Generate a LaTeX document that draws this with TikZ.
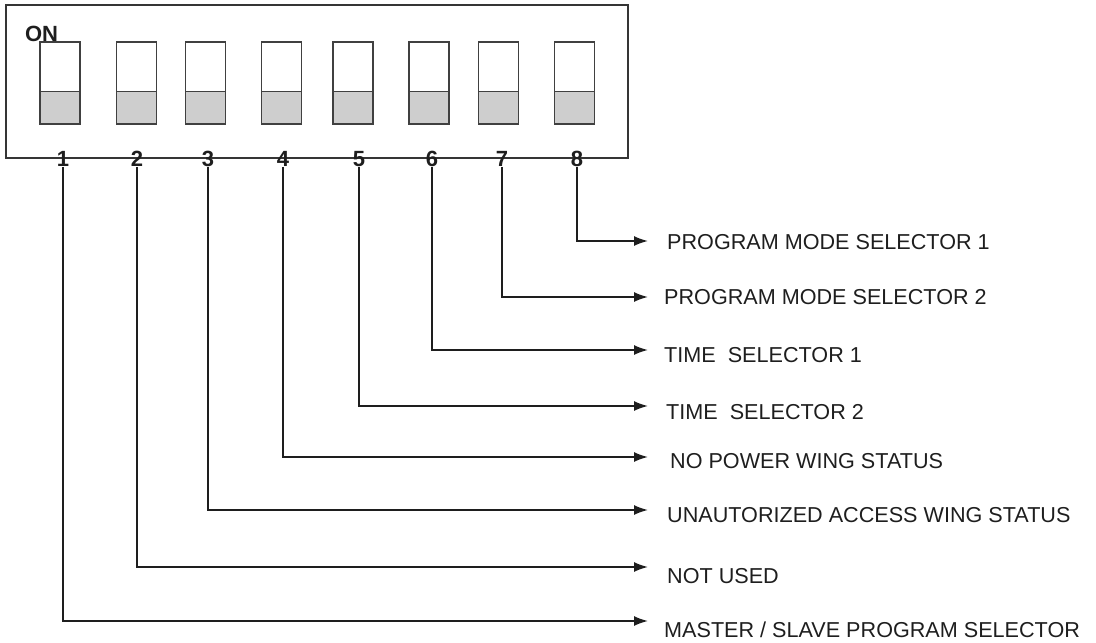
\documentclass[tikz,border=0pt]{standalone}
\usepackage{fontspec}
\setmainfont{Liberation Sans}
\usetikzlibrary{arrows.meta}
\definecolor{swgray}{HTML}{CECECE}
\definecolor{ink}{HTML}{1E1E1E}
\begin{document}
\begin{tikzpicture}[x=1pt,y=-1pt,
  frame/.style={draw=ink!90, line width=1.8pt, inner sep=0pt},
  switchbox/.style={draw=ink!85, line width=1.6pt, minimum width=40pt, minimum height=82pt, inner sep=0pt,
    path picture={\fill[swgray] (path picture bounding box.south west) rectangle ([yshift=32.5pt]path picture bounding box.south east);
      \draw[ink!85, line width=1.6pt] ([yshift=32.5pt]path picture bounding box.south west) -- ([yshift=32.5pt]path picture bounding box.south east);}},
  num/.style={font=\fontsize{22}{24}\selectfont\bfseries, inner sep=0pt, text=ink},
  lab/.style={font=\fontsize{21.6}{24}\selectfont, anchor=west, inner sep=0pt, text=ink},
  conn/.style={draw=ink, line width=1.7pt, -{Latex[length=14pt,width=10pt]}}
]
\useasboundingbox (0,0) rectangle (1096,643);
\node[frame, minimum width=622pt, minimum height=153pt] (box) at (317,81.5) {};
\foreach \i/\x in {1/60,2/136.5,3/205.5,4/281.5,5/353,6/429,7/498.5,8/574.5}
  \node[switchbox] (sw\i) at (\x,83) {};
\node[num] (on) at (41.5,34) {ON};
\foreach \i/\x in {1/63,2/137,3/208,4/283,5/359,6/432,7/502,8/577}
  \node[num] (n\i) at (\x,159) {\i};
\node[lab] (l8) at (667,242) {PROGRAM MODE SELECTOR 1};
\node[lab] (l7) at (664,297) {PROGRAM MODE SELECTOR 2};
\node[lab] (l6) at (664,355) {TIME\ \ SELECTOR 1};
\node[lab] (l5) at (666,412) {TIME\ \ SELECTOR 2};
\node[lab] (l4) at (670,461) {NO POWER WING STATUS};
\node[lab] (l3) at (667,515) {UNAUTORIZED ACCESS WING STATUS};
\node[lab] (l2) at (667,576) {NOT USED};
\node[lab] (l1) at (664,630) {MASTER / SLAVE PROGRAM SELECTOR};
\foreach \i/\y in {1/621,2/567,3/510,4/457,5/406,6/350,7/297,8/241}
  \coordinate (e\i) at (648,\y);
\foreach \i in {1,...,8}
  \draw[conn] (n\i.south) |- (e\i);
\end{tikzpicture}
\end{document}
